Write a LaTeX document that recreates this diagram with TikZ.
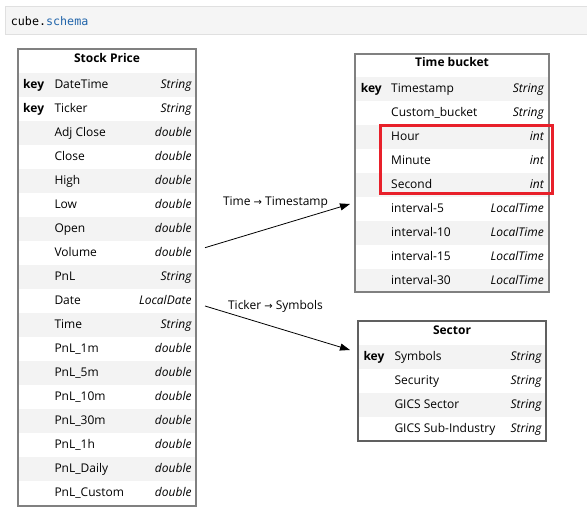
\documentclass[tikz,border=0pt]{standalone}
\usepackage{fontspec}
\setmainfont{Open Sans}
\newfontfamily\codefont{DejaVu Sans Mono}
\newfontfamily\arrowfont{DejaVu Sans}
\usepackage{tikz}
\usetikzlibrary{arrows.meta, positioning}
\usepackage{xcolor}
\definecolor{framegray}{RGB}{128,128,128}
\definecolor{darkframe}{RGB}{96,96,96}
\definecolor{stripe}{RGB}{243,243,243}
\definecolor{barfill}{RGB}{245,245,245}
\definecolor{barline}{RGB}{224,224,224}
\definecolor{attrblue}{RGB}{32,100,170}
\definecolor{hlred}{RGB}{232,32,42}
\newcommand\fsz{\fontsize{12}{14}\selectfont}
\newcommand\rarr{{\arrowfont\fontsize{10}{14}\selectfont →}}

\begin{document}
\begin{tikzpicture}[x=1pt, y=-1pt,
  font=\fsz,
  frame/.style={draw=framegray, line width=2pt, inner sep=0pt},
  ttl/.style={font=\fsz\bfseries, anchor=base},
  fkey/.style={font=\fsz\bfseries, anchor=base west, inner sep=0pt},
  fname/.style={anchor=base west, inner sep=0pt},
  ftype/.style={font=\fsz\itshape, anchor=base east, inner sep=0pt},
  link/.style={-{Triangle[length=10pt, width=7pt]}, line width=0.8pt},
  lbl/.style={anchor=base, inner sep=0pt}
]
\useasboundingbox (0,0) rectangle (587,513);

% cell header
\draw[barline, fill=barfill] (5.5,6.5) rectangle (595,34.5);
\node[anchor=base west, inner sep=0pt, font=\codefont\fontsize{11.7}{14}\selectfont] (cmd) at (10.7,25.3) {cube.\textcolor{attrblue}{schema}};

% Stock Price
\foreach [count=\i] \f/\t in {DateTime/String, Ticker/String, Adj Close/double, Close/double,
    High/double, Low/double, Open/double, Volume/double, PnL/String, Date/LocalDate,
    Time/String, PnL\_1m/double, PnL\_5m/double, PnL\_10m/double, PnL\_30m/double,
    PnL\_1h/double, PnL\_Daily/double, PnL\_Custom/double} {
  \pgfmathsetmacro\y{64.2+24*\i}
  \ifodd\i\relax \fill[stripe] (18,{\y-15.5}) rectangle (196,{\y+8.5}); \fi
  \node[fname] (sp-n\i) at (54.3,\y) {\f};
  \node[ftype] (sp-t\i) at (191.7,\y) {\t};
}
\node[fkey] (sp-k1) at (23,88.2) {key};
\node[fkey] (sp-k2) at (23,112.2) {key};
\node[frame, minimum width=178.6pt, minimum height=456.4pt] (sp) at (107,277.5) {};
\node[ttl] (sp-title) at (107,62.7) {Stock Price};

% Time bucket
\foreach [count=\i] \f/\t in {Timestamp/String, Custom\_bucket/String, Hour/int, Minute/int,
    Second/int, interval-5/LocalTime, interval-10/LocalTime, interval-15/LocalTime,
    interval-30/LocalTime} {
  \pgfmathsetmacro\y{68.3+24*\i}
  \ifodd\i\relax \fill[stripe] (356,{\y-15}) rectangle (548,{\y+9}); \fi
  \node[fname] (tb-n\i) at (391,\y) {\f};
  \node[ftype] (tb-t\i) at (544,\y) {\t};
}
\node[fkey] (tb-k1) at (360.7,92.3) {key};
\node[frame, minimum width=194pt, minimum height=238.6pt] (tb) at (452,173) {};
\node[ttl] (tb-title) at (452,66.5) {Time bucket};
\draw[hlred, line width=3pt] (380.5,125.5) rectangle (552.5,193.5);

% Sector
\foreach [count=\i] \f/\t in {Symbols/String, Security/String, GICS Sector/String,
    GICS Sub-Industry/String} {
  \pgfmathsetmacro\y{336.5+24*\i}
  \ifodd\i\relax \fill[stripe] (358.7,{\y-15.5}) rectangle (545.3,{\y+8.5}); \fi
  \node[fname] (sc-n\i) at (394.3,\y) {\f};
  \node[ftype] (sc-t\i) at (541.7,\y) {\t};
}
\node[fkey] (sc-k1) at (363.3,360.5) {key};
\node[frame, draw=darkframe, minimum width=188.6pt, minimum height=119.7pt] (sc) at (452,380.85) {};
\node[ttl] (sc-title) at (452,335) {Sector};

% links
\draw[link] ([shift={(7.7,-29.8)}]sp.east) -- ([shift={(-4,31)}]tb.west);
\node[lbl] (lb-time) at (275.5,206) {Time \rarr\ Timestamp};
\draw[link] ([shift={(7.7,28.5)}]sp.east) -- ([shift={(-6.7,-30.85)}]sc.west);
\node[lbl] (lb-tick) at (275.5,309.3) {Ticker \rarr\ Symbols};
\end{tikzpicture}
\end{document}
